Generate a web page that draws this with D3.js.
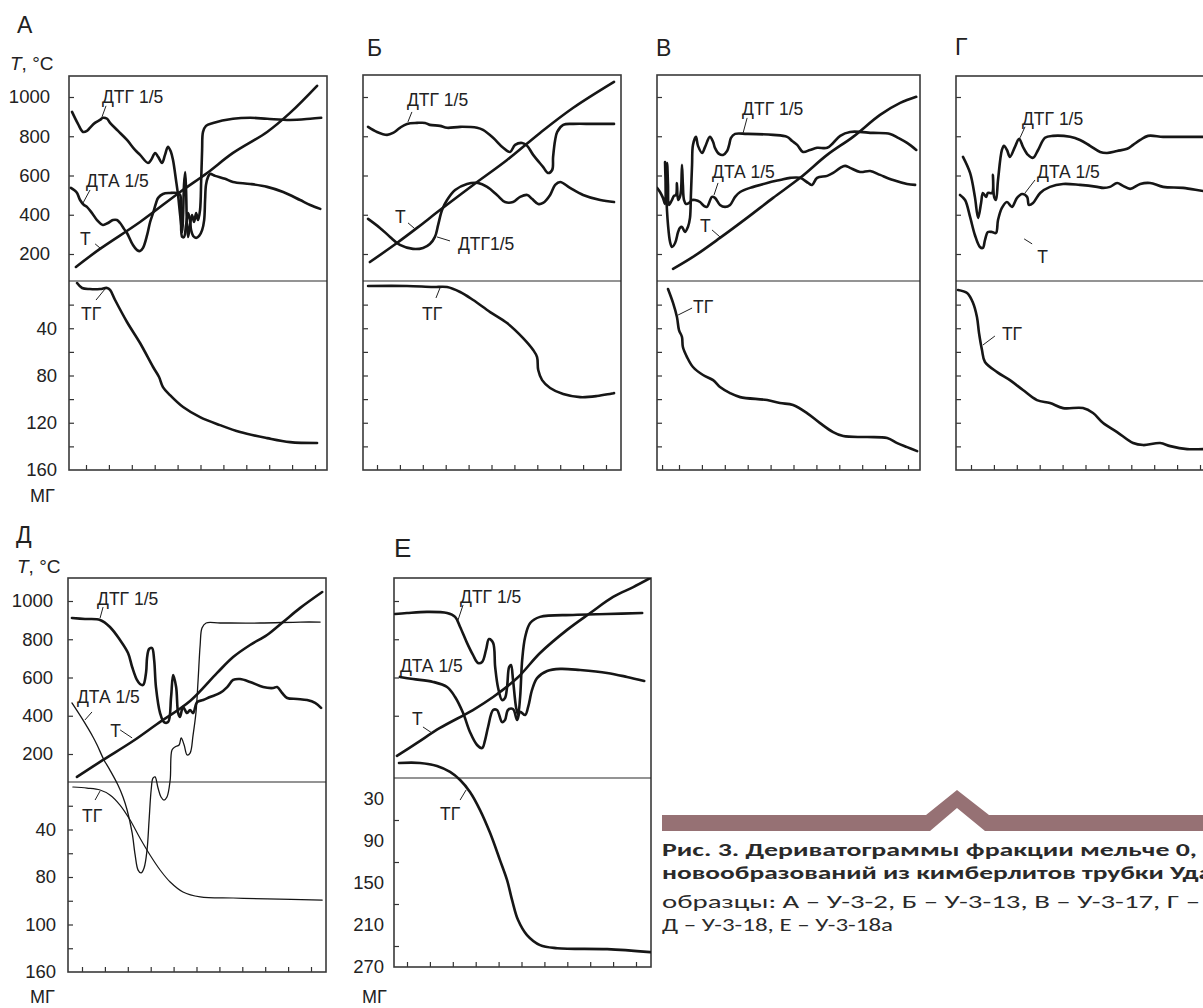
<!DOCTYPE html>
<html><head><meta charset="utf-8">
<script src="https://cdn.jsdelivr.net/npm/d3@7"></script>
<style>body{margin:0;background:#fff;} svg{display:block;}</style>
</head><body>
<svg id="c" width="1203" height="1008"></svg>
<script>
// ---------------- DATA (x = time, min; upper curves in °C-scale units; ТГ in mg) ----------------
const xTicks = [0,10,20,30,40,50,60,70,80,90,100];
const xTicksV = [-7.4,0,10,20,30,40,50,60,70,80,90,100];
const upperTicks = [200,400,600,800,1000];
const upperTicksE = [400,600,800,1000];
const lowerTicksMg = [20,40,60,80,100,120,140];
const lowerLabelValues = [40,80,120,160];
const lowerLabelsA = ["40","80","120","160"];
const lowerLabelsD = ["40","80","100","160"];
const lowerTicksE = [60,120,180,240];
const lowerLabelValuesE = [30,90,150,210,270];
const lowerLabelsE = ["30","90","150","210","270"];

// Panel А (У-3-2)
const A_T = [[-4.4,134],[6.1,226],[23.6,363],[41.1,516],[52.9,613],[64.2,715],[79.1,822],[89.1,919],[100.9,1057]];
const A_DTG = [[-6.1,924],[-3.5,863],[-1.3,822],[0.4,827],[1.7,843],[3.9,868],[6.1,883],[7.4,894],[9.2,889],[10.5,868],[14,827],[17.9,781],[21.4,730],[23.6,705],[27.1,664],[28.4,679],[30.2,715],[31.5,695],[33.2,664],[34.5,705],[35.8,746],[37.1,720],[38,679],[39.3,577],[40.2,501],[41.1,399],[42,312],[42.4,399],[42.8,552],[43.3,618],[43.7,526],[44.1,348],[44.6,287],[45.4,348],[46.3,399],[47.2,363],[48.1,409],[48.9,373],[49.8,424],[50.3,577],[50.7,730],[51.1,822],[52.4,853],[55.5,868],[64.2,889],[71.7,894],[79.1,889],[89.1,883],[97.9,889],[102.7,894]];
const A_DTA = [[-6.6,537],[-5.2,526],[-3.9,511],[-2.6,475],[-0.9,450],[0.4,440],[2.6,409],[4.8,373],[7.4,348],[9.6,358],[11.8,373],[13.5,373],[14.9,358],[16.6,328],[17.9,307],[20.5,246],[22.3,220],[23.6,215],[24.9,231],[26.7,297],[28,363],[29.3,409],[30.6,460],[31.5,486],[33.6,506],[36.7,511],[39.8,511],[41.1,501],[41.5,399],[42,287],[42.8,287],[43.7,348],[44.6,409],[45.4,373],[45.9,322],[46.8,292],[48.1,282],[49.4,292],[50.7,322],[51.6,373],[52,475],[52.4,552],[53.3,593],[54.2,608],[56.4,598],[60.7,583],[64.2,567],[71.7,557],[79.1,542],[86.1,516],[93.5,475],[97.9,450],[102.3,430]];
const A_TG = [[-3.9,1.7],[-1.7,5.9],[1.7,6.8],[6.1,6.8],[9.2,5.9],[10.5,7.6],[12.7,16.1],[17.9,34.7],[23.6,52.5],[29.3,72.8],[31.9,81.3],[33.6,89.8],[36.7,96.6],[42.4,106.7],[49.8,115.2],[58.5,122],[67.3,127.9],[79.1,133],[89.1,136.4],[100.9,137.2]];

// Panel Б (У-3-13)
const B_T = [[-3.1,159],[8.7,256],[17.5,333],[27.5,424],[42,552],[56.8,679],[71.2,817],[85.7,945],[103.5,1077]];
const B_DTG = [[-3.9,848],[0,822],[4.4,807],[7,817],[10,843],[13.1,863],[17.5,868],[21,868],[23.1,858],[27.5,853],[30.6,843],[36.3,848],[43.7,843],[46.3,832],[50.7,792],[55.1,741],[58.1,720],[60.3,756],[63.4,766],[65.6,751],[68.2,705],[72.5,644],[74.7,613],[76.5,628],[76.9,695],[77.8,781],[78.7,822],[81.3,858],[85.7,863],[94.4,863],[103.5,863]];
const B_DTG2 = [[-3.9,379],[1.3,333],[5.7,287],[10,246],[15.7,226],[20.1,231],[23.1,251],[25.3,287],[26.7,348],[28.4,424],[30.6,475],[34.1,526],[39.3,557],[44.1,562],[48.1,542],[52.4,501],[55.9,465],[59.4,465],[62.5,491],[65.6,501],[67.7,481],[70.4,455],[72.5,460],[75.6,501],[77.8,552],[80,567],[84.3,537],[90,501],[97.5,475],[103.5,465]];
const B_TG = [[-3.9,4.2],[13.1,4.2],[24.5,5.1],[30.6,5.1],[36.3,9.3],[42,16.1],[49.4,26.3],[56.8,35.6],[63.8,48.3],[68.2,58.4],[69.9,64.4],[70.4,75.4],[72.1,83.9],[75.6,90.6],[81.3,95.7],[88.7,98.3],[96.1,97.4],[103.5,94.9]];

// Panel В (У-3-17)
const V_T = [[-2.6,124],[6.1,185],[17.9,282],[29.7,384],[41.1,486],[52.9,588],[64.7,705],[76,797],[87.8,909],[96.6,970],[103.6,1001]];
const V_DTG = [[-6.1,669],[-5.7,526],[-4.8,348],[-3.9,261],[-3.1,236],[-1.7,256],[-0.4,312],[0.4,333],[1.3,338],[2.6,312],[3.9,338],[4.8,384],[5.2,501],[5.7,654],[6.1,756],[7.4,797],[8.3,751],[10.1,715],[11.4,746],[13.5,797],[14.9,771],[15.7,741],[17.5,710],[19.2,705],[21,725],[21.9,756],[22.7,792],[24.5,812],[29.7,812],[41.1,807],[47.2,797],[49.4,776],[51.6,756],[54.2,720],[57.2,730],[60.3,741],[64.7,741],[67.3,766],[70.4,802],[74.7,822],[84.8,817],[92.2,812],[95.7,792],[99.6,766],[103.6,730]];
const V_DTA = [[-9.6,537],[-8.3,516],[-7,486],[-6.1,455],[-5.7,552],[-5.2,664],[-4.8,552],[-4.4,450],[-3.1,475],[-2.2,496],[-1.3,501],[-0.9,562],[-0.4,475],[0.4,491],[0.9,526],[1.3,654],[1.7,552],[2.2,475],[3.1,455],[4.4,460],[5.7,475],[7,475],[9.2,465],[10.9,445],[12.2,440],[14.4,491],[15.7,486],[17.9,450],[20.1,440],[22.3,450],[24.5,491],[26.7,516],[31,537],[38.5,562],[44.1,577],[48.5,588],[52.9,588],[56.4,562],[58.1,552],[60.3,588],[64.7,598],[67.3,613],[70.4,639],[72.5,649],[74.7,639],[79.1,618],[83.5,623],[87.8,603],[93.5,577],[99.6,557],[103.1,552]];
const V_TG = [[-4.8,6.8],[-2.6,18.6],[-0.9,30.5],[0,41.5],[1.3,47.4],[1.7,55.9],[3.5,64.4],[6.1,72.8],[10.5,79.6],[14.9,83.9],[17.9,89.8],[22.3,94.9],[26.7,98.3],[38.5,100.8],[44.1,103.3],[49.8,105],[55.9,111.8],[61.6,120.3],[67.3,127.9],[71.7,131.3],[82.2,132.1],[90.9,133],[95.3,137.2],[99.6,140.6],[104,144]];

// Panel Г
const G_DTG = [[-3.5,695],[-0.4,613],[1.7,491],[3.1,384],[4.4,460],[5.2,511],[6.6,491],[7.4,511],[9.2,511],[9.6,603],[10.1,491],[10.9,475],[11.8,577],[13.5,730],[14.4,751],[15.7,730],[17,695],[19.2,746],[21,787],[22.7,746],[24.9,705],[27.1,690],[29.3,730],[32.3,792],[35.8,802],[43.3,797],[47.6,781],[52,751],[56.4,720],[59.4,715],[63.8,725],[68.2,736],[70.8,756],[73.9,781],[77.3,802],[83.9,797],[92.6,797],[101.4,797],[106,797]];
const G_DTA = [[-4.8,501],[-2.6,475],[-0.4,389],[1.7,297],[3.9,236],[5.2,231],[6.1,271],[7.4,312],[9.2,312],[10.9,307],[11.8,373],[13.5,435],[15.7,465],[17.9,440],[20.1,486],[22.3,506],[24.5,491],[25.3,450],[27.1,460],[30.2,511],[34.5,542],[40.2,557],[47.6,552],[55.1,542],[57.7,537],[60.7,542],[63.8,562],[66.4,547],[69.5,532],[73.9,557],[78.2,562],[83.9,542],[92.6,537],[101.4,521],[106,515]];
const G_TG = [[-5.7,7.6],[-1.7,10.2],[0.9,18.6],[2.6,30.5],[3.5,44],[4.8,58.4],[6.1,68.6],[11.4,77.1],[17,83.9],[22.7,92.3],[28.8,100.8],[34.5,103.3],[40.2,107.6],[48.9,107.6],[53.3,111.8],[57.7,120.3],[63.8,127.9],[70.8,137.2],[75.2,138.9],[82.6,137.2],[87,139.8],[94.4,142.3],[101.4,142.3],[106,142.3]];

// Panel Д (У-3-18)
const D_T = [[-2.2,80],[9.2,169],[22.3,268],[32.8,357],[47.2,477],[59,624],[66,707],[73.4,770],[80.8,822],[87.8,890],[95.3,964],[104.9,1047]];
const D_DTG = [[-4.4,911],[1.3,906],[7.9,901],[12.2,864],[16.6,796],[20.1,728],[21.9,655],[24,587],[25.3,566],[26.7,561],[28,629],[28.4,702],[29.3,749],[30.6,754],[31.5,692],[32.3,550],[34.1,414],[35.8,367],[37.6,367],[38.9,498],[39.8,613],[41.1,550],[42,414],[42.8,394],[44.1,446],[45.9,414],[47.2,430],[48.5,414],[50.3,472],[52.9,482],[55.9,498],[60.3,519],[63.4,550],[66,587],[69,592],[73.4,577],[79.1,550],[83.5,545],[85.2,550],[87.4,519],[89.6,493],[94,488],[98.3,482],[101.8,467],[104.4,441]];
const D_DTA = [[-4.4,467],[0.4,378],[4.8,289],[6.6,247],[9.6,169],[12.2,116],[15.7,38],[17.9,-25],[19.7,-93],[21.9,-213],[23.2,-328],[24.5,-407],[25.8,-422],[27.1,-396],[28.4,-302],[29.3,-145],[30.2,12],[31,74],[31.9,80],[33.2,22],[34.5,-25],[35.8,-41],[37.1,-25],[38.5,64],[39.3,221],[40.6,237],[42.4,247],[43.3,284],[44.6,247],[45.9,195],[47.2,205],[48.5,299],[49.8,420],[50.7,587],[51.6,770],[52.4,859],[54.2,885],[60.3,885],[77.8,885],[95.3,890],[104,890]];
const D_TG = [[-4,4.2],[2.2,5.1],[7.9,6.7],[12.2,10.9],[16.6,19.4],[21,32],[25.3,47.2],[29.7,61.5],[34.1,74.1],[38.5,84.2],[44.1,92.6],[51.6,96.8],[66,97.7],[80.8,98.5],[104.9,99.4]];

// Panel Е (У-3-18а)
const E_T = [[-4.4,190],[4.4,258],[14.4,336],[28.8,430],[37.6,498],[48.1,597],[58.1,728],[69.9,849],[80,937],[90,1021],[98.8,1073],[106.2,1120]];
const E_DTG = [[-5.2,932],[0,937],[8.7,943],[17.5,937],[21,917],[23.2,864],[26.2,781],[28.8,718],[31,676],[32.8,681],[34.5,744],[35.8,801],[37.6,781],[38.5,655],[39.8,545],[41.5,482],[42.8,493],[43.7,550],[44.6,655],[45.4,665],[46.3,587],[47.6,446],[48.5,404],[49.4,498],[50.3,692],[51.6,812],[53.8,885],[58.1,917],[72.5,927],[87.4,932],[102.7,937]];
const E_DTA = [[-3.1,603],[2.6,592],[11.4,577],[17.5,550],[21,498],[24.5,414],[27.5,315],[30.6,247],[32.8,231],[34.1,273],[35.4,341],[37.6,430],[39.3,430],[41.5,367],[42.8,378],[44.1,430],[46.3,435],[48.1,378],[49.4,420],[51.6,404],[52.9,446],[54.6,535],[56.8,597],[61.2,634],[66.9,645],[75.6,639],[87.4,624],[96.1,603],[103.6,582]];
const E_TG = [[-3.5,-21.5],[5.7,-21.5],[13.1,-17.2],[18.8,-8.6],[23.2,2.9],[27.5,20],[31.9,45.8],[36.3,78.7],[40.6,117.3],[43.7,145.9],[45.9,174.5],[48.5,203],[52.4,224.5],[58.1,238.8],[65.6,243.1],[87.4,244.5],[106.2,248.8]];

// annotations: [text, scale, x, y, leaderDx, leaderDy, textDx, textDy]
const A_notes = [["ДТГ 1/5","u",7.0,899,4,-11,0,-14],["ДТА 1/5","u",-1.3,460,7,-13,3,-16],["Т","u",6.6,226,-6,-5,-21,-4],["ТГ","l",8.3,6.8,-9,11,-24,31]];
const B_notes = [["ДТГ 1/5","u",13.5,873,4,-10,-1,-16],["Т","u",16.6,328,-7,-6,-20,-6],["ДТГ1/5","u",26.2,287,13,4,21,13],["ТГ","l",27.5,5.9,-4,10,-18,32]];
const V_notes = [["ДТГ 1/5","u",28,817,4,-15,-1,-18],["ДТА 1/5","u",15.3,501,4,-12,-2,-17],["Т","u",17.9,287,-8,-7,-20,-5],["ТГ","l",-0.4,28.8,14,-7,15,-2]];
const G_notes = [["ДТГ 1/5","u",21.4,792,5,-11,2,-13],["ДТА 1/5","u",23.6,511,10,-13,12,-15],["Т","u",23.2,277,8,5,13,24],["ТГ","l",5.2,54.2,12,-9,19,-5]];
const D_notes = [["ДТГ 1/5","u",7.9,911,3,-11,-3,-13],["ДТА 1/5","u",1.3,378,7,-8,-8,-17],["Т","u",21.9,284,-12,-8,-22,-1],["ТГ","l",7.9,7.6,-5,9,-18,31]];
const E_notes = [["ДТГ 1/5","u",22.3,901,5,-15,2,-17],["ДТА 1/5","u",-3.1,629,0,0,0,0],["Т","u",10.9,310,-9,-6,-20,-8],["ТГ","l",25.8,17.2,-6,10,-26,30]];

const captionLines = [
  "Рис. 3. Дериватограммы фракции мельче 0,",
  "новообразований из кимберлитов трубки Уда",
  "образцы: А – У-3-2, Б – У-3-13, В – У-3-17, Г –",
  "Д – У-3-18, Е – У-3-18а"
];

// ---------------- DRAWING ----------------
const svg = d3.select("#c");
const FONT = "'Liberation Sans', Arial, Helvetica, sans-serif";
const INK = "#161616";
const defs = svg.append("defs");

const panels = [
  {id:"A", letter:"А", lx:17, ly:33, lsize:23, left:69, right:327, top:76, bottom:470, tick0:86,
   uRange:[254,97], lDomain:[0,160], lRange:[281,470], uTicks:upperTicks, uLab:true, uPad:19,
   lTicks:lowerTicksMg, lLabVals:lowerLabelValues, lLabs:lowerLabelsA, lPad:12, xt:xTicks,
   series:[[A_DTG,"u",2.6],[A_DTA,"u",2.6],[A_T,"u",2.6],[A_TG,"l",2.6]], notes:A_notes},
  {id:"B", letter:"Б", lx:367, ly:56, lsize:23, left:363, right:621, top:75, bottom:470, tick0:377,
   uRange:[254,97], lDomain:[0,160], lRange:[281,470], uTicks:upperTicks, uLab:false,
   lTicks:lowerTicksMg, xt:xTicks,
   series:[[B_DTG,"u",2.6],[B_DTG2,"u",2.6],[B_T,"u",2.6],[B_TG,"l",2.6]], notes:B_notes},
  {id:"V", letter:"В", lx:656, ly:56, lsize:23, left:657, right:920, top:75, bottom:470, tick0:679,
   uRange:[254,97], lDomain:[0,160], lRange:[281,470], uTicks:upperTicks, uLab:false,
   lTicks:lowerTicksMg, xt:xTicksV,
   series:[[V_DTG,"u",2.6],[V_DTA,"u",2.6],[V_T,"u",2.6],[V_TG,"l",2.6]], notes:V_notes},
  {id:"G", letter:"Г", lx:955, ly:55, lsize:23, left:956, right:1215, top:76, bottom:470, tick0:971,
   uRange:[254,97], lDomain:[0,160], lRange:[281,470], uTicks:upperTicks, uLab:false,
   lTicks:lowerTicksMg, xt:xTicks,
   series:[[G_DTG,"u",2.6],[G_DTA,"u",2.6],[G_TG,"l",2.6]], notes:G_notes},
  {id:"D", letter:"Д", lx:16, ly:543, lsize:23, left:68, right:326, top:578, bottom:972, tick0:82,
   uRange:[754,601], lDomain:[0,160], lRange:[782,972], uTicks:upperTicks, uLab:true, uPad:15,
   lTicks:lowerTicksMg, lLabVals:lowerLabelValues, lLabs:lowerLabelsD, lPad:12, xt:xTicks,
   series:[[D_DTG,"u",2.6],[D_DTA,"u",1.3],[D_T,"u",2.6],[D_TG,"l",1.2]], notes:D_notes},
  {id:"E", letter:"Е", lx:394, ly:557, lsize:26, left:394, right:651, top:578, bottom:967, tick0:407,
   uRange:[754,601], lDomain:[0,270], lRange:[778,967], uTicks:upperTicksE, uLab:false,
   lTicks:lowerTicksE, lLabVals:lowerLabelValuesE, lLabs:lowerLabelsE, lPad:10, xt:xTicks,
   series:[[E_DTG,"u",2.6],[E_DTA,"u",2.6],[E_T,"u",2.6],[E_TG,"l",2.6]], notes:E_notes}
];

function styleAxis(ax){
  ax.select(".domain").remove();
  ax.selectAll("line").attr("stroke","#333").attr("stroke-width",1.2);
  ax.selectAll("text").attr("font-size",18.5).attr("font-family",FONT).attr("fill","#222");
}

panels.forEach(p=>{
  const g = svg.append("g");
  const x = d3.scaleLinear().domain([0,100]).range([p.tick0, p.tick0+229]);
  const yu = d3.scaleLinear().domain([200,1000]).range(p.uRange);
  const yl = d3.scaleLinear().domain(p.lDomain).range(p.lRange);
  defs.append("clipPath").attr("id","clip"+p.id).append("rect")
    .attr("x",p.left).attr("y",p.top).attr("width",p.right-p.left).attr("height",p.bottom-p.top);

  g.append("text").attr("x",p.lx).attr("y",p.ly).text(p.letter)
    .attr("font-family",FONT).attr("font-size",p.lsize).attr("fill","#222");

  const ua = g.append("g").attr("transform",`translate(${p.left},0)`)
    .call(d3.axisLeft(yu).tickValues(p.uTicks).tickSize(-5).tickPadding(p.uPad||10)
      .tickFormat(p.uLab ? d3.format("d") : ""));
  styleAxis(ua);
  const la = g.append("g").attr("transform",`translate(${p.left},0)`)
    .call(d3.axisLeft(yl).tickValues(p.lTicks).tickSize(-5).tickFormat(""));
  styleAxis(la);
  if (p.lLabVals){
    const ll = g.append("g").attr("transform",`translate(${p.left},0)`)
      .call(d3.axisLeft(yl).tickValues(p.lLabVals).tickSize(0).tickPadding(p.lPad)
        .tickFormat((d,i)=>p.lLabs[i]));
    styleAxis(ll);
    ll.selectAll("line").remove();
  }
  const ba = g.append("g").attr("transform",`translate(0,${p.bottom})`)
    .call(d3.axisBottom(x).tickValues(p.xt).tickSize(-5).tickFormat(""));
  styleAxis(ba);

  g.append("rect").attr("x",p.left).attr("y",p.top).attr("width",p.right-p.left).attr("height",p.bottom-p.top)
    .attr("fill","none").attr("stroke","#3a3a3a").attr("stroke-width",1.6);
  g.append("line").attr("x1",p.left).attr("x2",p.right).attr("y1",yl(0)).attr("y2",yl(0))
    .attr("stroke","#2a2a2a").attr("stroke-width",1.1);

  const cg = g.append("g").attr("clip-path",`url(#clip${p.id})`);
  p.series.forEach(([data, sc, w])=>{
    const yy = sc==="u" ? yu : yl;
    const line = d3.line().x(d=>x(d[0])).y(d=>yy(d[1])).curve(d3.curveCatmullRom.alpha(0.5));
    cg.append("path").attr("d", line(data)).attr("fill","none").attr("stroke",INK)
      .attr("stroke-width",w).attr("stroke-linejoin","round").attr("stroke-linecap","round");
  });

  p.notes.forEach(([t, sc, nx, ny, ldx, ldy, tdx, tdy])=>{
    const yy = sc==="u" ? yu : yl;
    const ax = x(nx), ay = yy(ny);
    if (ldx || ldy){
      g.append("line").attr("x1",ax).attr("y1",ay).attr("x2",ax+ldx).attr("y2",ay+ldy)
        .attr("stroke","#222").attr("stroke-width",1);
    }
    g.append("text").attr("x",ax+tdx).attr("y",ay+tdy).text(t)
      .attr("font-family",FONT).attr("font-size",17.5).attr("fill","#222");
  });
});

function axTitle(xp, yp){
  const t = svg.append("text").attr("x",xp).attr("y",yp).attr("font-family",FONT).attr("font-size",19).attr("fill","#222");
  t.append("tspan").attr("font-style","italic").text("T");
  t.append("tspan").text(", °C");
}
axTitle(10,70); axTitle(17,573);
[[30,502],[30,1003],[362,1003]].forEach(([xp,yp])=>{
  svg.append("text").attr("x",xp).attr("y",yp).text("МГ")
    .attr("font-family",FONT).attr("font-size",18).attr("fill","#222");
});

// decorative band
svg.append("path")
  .attr("d", d3.line()([[662,815],[926,815],[957,790],[989,815],[1203,815],[1203,831],[985,831],[957,808],[930,831],[662,831]]) + "Z")
  .attr("fill","#967174");

// caption
const CF = "Carlito, Calibri, Lato, 'Open Sans', sans-serif";
const capSize = 19;
const cap = [
  {t:captionLines[0], y:856, bold:true, len:535},
  {t:captionLines[1], y:879, bold:true, len:550},
  {t:captionLines[2], y:908, bold:false, len:538},
  {t:captionLines[3], y:931, bold:false, len:231}
];
cap.forEach(c=>{
  const el = svg.append("text").attr("x",662).attr("y",c.y).text(c.t)
    .attr("font-family",CF).attr("font-size",capSize).attr("font-weight",c.bold?"bold":"normal")
    .attr("fill","#2a2a2a");
  const nat = el.node().getComputedTextLength();
  el.attr("textLength",c.len).attr("lengthAdjust", Math.abs(nat-c.len) < 0.04*c.len ? "spacing" : "spacingAndGlyphs");
});
</script>
</body></html>
